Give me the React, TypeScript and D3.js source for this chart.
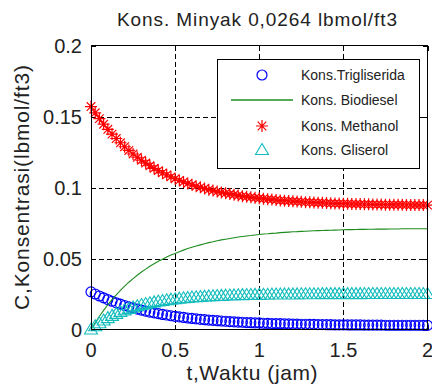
import React from 'react';
import * as d3 from 'd3';

const timeJam = [0,0.025,0.05,0.075,0.1,0.125,0.15,0.175,0.2,0.225,0.25,0.275,0.3,0.325,0.35,0.375,0.4,0.425,0.45,0.475,0.5,0.525,0.55,0.575,0.6,0.625,0.65,0.675,0.7,0.725,0.75,0.775,0.8,0.825,0.85,0.875,0.9,0.925,0.95,0.975,1,1.025,1.05,1.075,1.1,1.125,1.15,1.175,1.2,1.225,1.25,1.275,1.3,1.325,1.35,1.375,1.4,1.425,1.45,1.475,1.5,1.525,1.55,1.575,1.6,1.625,1.65,1.675,1.7,1.725,1.75,1.775,1.8,1.825,1.85,1.875,1.9,1.925,1.95,1.975,2];

const trigliserida = [
0.0265,0.0250,0.0236,0.0223,0.0211,0.0199,0.0188,0.0178,0.0169,0.0160,
0.0152,0.0144,0.0137,0.0130,0.0123,0.0117,0.0112,0.0106,0.0102,0.0097,
0.0093,0.0089,0.0085,0.0081,0.0078,0.0075,0.0072,0.0069,0.0066,0.0064,
0.0062,0.0060,0.0058,0.0056,0.0054,0.0052,0.0051,0.0049,0.0048,0.0047,
0.0046,0.0044,0.0043,0.0042,0.0042,0.0041,0.0040,0.0039,0.0038,0.0038,
0.0037,0.0037,0.0036,0.0036,0.0035,0.0035,0.0034,0.0034,0.0033,0.0033,
0.0033,0.0032,0.0032,0.0032,0.0032,0.0031,0.0031,0.0031,0.0031,0.0031,
0.0030,0.0030,0.0030,0.0030,0.0030,0.0030,0.0030,0.0030,0.0030,0.0029,
0.0029];

const biodiesel = [
0,0.0048,0.0093,0.0135,0.0174,0.0210,0.0244,0.0276,0.0305,0.0333,
0.0358,0.0382,0.0405,0.0425,0.0445,0.0463,0.0480,0.0495,0.0510,0.0524,
0.0536,0.0548,0.0559,0.0570,0.0579,0.0588,0.0596,0.0604,0.0612,0.0618,
0.0625,0.0631,0.0636,0.0641,0.0646,0.0651,0.0655,0.0659,0.0662,0.0666,
0.0669,0.0672,0.0674,0.0677,0.0679,0.0682,0.0684,0.0686,0.0688,0.0689,
0.0691,0.0692,0.0694,0.0695,0.0696,0.0697,0.0698,0.0699,0.0700,0.0701,
0.0702,0.0703,0.0703,0.0704,0.0705,0.0705,0.0706,0.0706,0.0707,0.0707,
0.0707,0.0708,0.0708,0.0708,0.0709,0.0709,0.0709,0.0709,0.0710,0.0710,
0.0710];

const methanol = [
0.1570,0.1526,0.1485,0.1446,0.1410,0.1376,0.1345,0.1315,0.1287,0.1261,
0.1236,0.1213,0.1192,0.1172,0.1153,0.1135,0.1119,0.1103,0.1089,0.1075,
0.1062,0.1050,0.1039,0.1029,0.1019,0.1009,0.1001,0.0993,0.0985,0.0978,
0.0971,0.0965,0.0959,0.0954,0.0949,0.0944,0.0939,0.0935,0.0931,0.0927,
0.0924,0.0921,0.0918,0.0915,0.0912,0.0909,0.0907,0.0905,0.0903,0.0901,
0.0899,0.0897,0.0896,0.0894,0.0893,0.0892,0.0890,0.0889,0.0888,0.0887,
0.0886,0.0885,0.0884,0.0884,0.0883,0.0882,0.0882,0.0881,0.0880,0.0880,
0.0879,0.0879,0.0878,0.0878,0.0878,0.0877,0.0877,0.0877,0.0876,0.0876,
0.0876];

const gliserol = [
0,0.0023,0.0044,0.0063,0.0080,0.0096,0.0110,0.0123,0.0135,0.0145,
0.0155,0.0164,0.0172,0.0179,0.0185,0.0191,0.0197,0.0201,0.0206,0.0210,
0.0213,0.0217,0.0220,0.0222,0.0225,0.0227,0.0229,0.0231,0.0233,0.0234,
0.0236,0.0237,0.0238,0.0239,0.0240,0.0241,0.0242,0.0243,0.0243,0.0244,
0.0244,0.0245,0.0245,0.0246,0.0246,0.0246,0.0247,0.0247,0.0247,0.0247,
0.0248,0.0248,0.0248,0.0248,0.0248,0.0249,0.0249,0.0249,0.0249,0.0249,
0.0249,0.0249,0.0249,0.0249,0.0249,0.0250,0.0250,0.0250,0.0250,0.0250,
0.0250,0.0250,0.0250,0.0250,0.0250,0.0250,0.0250,0.0250,0.0250,0.0250,
0.0250];

const xTicks = [0, 0.5, 1, 1.5, 2];
const xTickLabels = ['0', '0.5', '1', '1.5', '2'];
const yTicks = [0, 0.05, 0.1, 0.15, 0.2];
const yTickLabels = ['0', '0.05', '0.1', '0.15', '0.2'];
const legendLabels = ['Kons.Trigliserida', 'Kons. Biodiesel', 'Kons. Methanol', 'Kons. Gliserol'];
const titleText = 'Kons. Minyak 0,0264 lbmol/ft3';
const xLabelText = 't,Waktu (jam)';
const yLabelText = 'C,Konsentrasi(lbmol/ft3)';

const FONT = '"Liberation Sans", Arial, Helvetica, sans-serif';
const BLUE = '#0000ff';
const GREEN = '#1e8c1e';
const RED = '#ff0000';
const CYAN = '#12bcbc';

const circlePath = (cx: number, cy: number) =>
  `M${cx + 5},${cy}A5,5 0 1,1 ${cx - 5},${cy}A5,5 0 1,1 ${cx + 5},${cy}Z`;
const starPath = (cx: number, cy: number) =>
  `M${cx - 6},${cy}h12M${cx},${cy - 6}v12M${cx - 4.3},${cy - 4.3}l8.6,8.6M${cx - 4.3},${cy + 4.3}l8.6,-8.6`;
const triPath = (cx: number, cy: number) =>
  `M${cx},${cy - 6.5}L${cx + 6.5},${cy + 4.5}L${cx - 6.5},${cy + 4.5}Z`;

export default function App() {
  const x = d3.scaleLinear().domain([0, 2]).range([91, 427.5]);
  const y = d3.scaleLinear().domain([0, 0.2]).range([329.5, 45.5]);
  const [px0, px1] = x.range();
  const [py0, py1] = y.range();

  const line = d3.line<number>().x((_, i) => x(timeJam[i])).y((d) => y(d));

  const legendX = 217.5, legendY = 59.5, legendW = 202, legendH = 109;
  const rowY = [75, 100, 126, 150];
  const mX = 262;

  return (
    <svg width={432} height={390} style={{ position: 'absolute', left: 0, top: 0, background: '#fff' }}>
      <rect x={0} y={0} width={432} height={390} fill="#fff" />
      {/* grid */}
      <g stroke="#000" strokeWidth={1} strokeDasharray="5,3" shapeRendering="crispEdges">
        {xTicks.slice(1, -1).map((t) => (
          <line key={'gx' + t} x1={Math.round(x(t)) + 0.5} x2={Math.round(x(t)) + 0.5} y1={py1} y2={py0} />
        ))}
        {yTicks.slice(1, -1).map((t) => (
          <line key={'gy' + t} x1={px0} x2={px1} y1={Math.round(y(t)) + 0.5} y2={Math.round(y(t)) + 0.5} />
        ))}
      </g>
      {/* ticks */}
      <g stroke="#000" strokeWidth={1} shapeRendering="crispEdges">
        {xTicks.map((t) => (
          <g key={'tx' + t}>
            <line x1={Math.round(x(t)) + 0.5} x2={Math.round(x(t)) + 0.5} y1={py0} y2={py0 - 5} />
            <line x1={Math.round(x(t)) + 0.5} x2={Math.round(x(t)) + 0.5} y1={py1} y2={py1 + 5} />
          </g>
        ))}
        {yTicks.map((t) => (
          <g key={'ty' + t}>
            <line x1={px0} x2={px0 + 5} y1={Math.round(y(t)) + 0.5} y2={Math.round(y(t)) + 0.5} />
            <line x1={px1} x2={px1 - 5} y1={Math.round(y(t)) + 0.5} y2={Math.round(y(t)) + 0.5} />
          </g>
        ))}
      </g>
      {/* series */}
      <path
        d={trigliserida.map((v, i) => circlePath(x(timeJam[i]), y(v))).join('')}
        fill="none" stroke={BLUE} strokeWidth={1.2}
      />
      <path d={line(biodiesel) || ''} fill="none" stroke={GREEN} strokeWidth={1.1} />
      <path
        d={methanol.map((v, i) => starPath(x(timeJam[i]), y(v))).join('')}
        fill="none" stroke={RED} strokeWidth={1.2}
      />
      <path
        d={gliserol.map((v, i) => triPath(x(timeJam[i]), y(v))).join('')}
        fill="none" stroke={CYAN} strokeWidth={1.1}
      />
      {/* frame */}
      <rect x={px0} y={py1} width={px1 - px0} height={py0 - py1} fill="none" stroke="#000" strokeWidth={1} shapeRendering="crispEdges" />
      {/* tick labels */}
      <g fontFamily={FONT} fontSize={20} fill="#222">
        {xTicks.map((t, i) => (
          <text key={'lx' + t} x={x(t)} y={357} textAnchor="middle">{xTickLabels[i]}</text>
        ))}
        {yTicks.map((t, i) => (
          <text key={'ly' + t} x={82} y={y(t) + 7} textAnchor="end">{yTickLabels[i]}</text>
        ))}
      </g>
      {/* title and labels */}
      <text x={257} y={26} textAnchor="middle" fontFamily={FONT} fontSize={19} fill="#222" textLength={280}>{titleText}</text>
      <text x={252} y={380} textAnchor="middle" fontFamily={FONT} fontSize={21} fill="#222" textLength={131}>{xLabelText}</text>
      <text transform={`translate(28.5,${(py0 + py1) / 2}) rotate(-90)`} textAnchor="middle" fontFamily={FONT} fontSize={21} fill="#222" textLength={245}>{yLabelText}</text>
      {/* legend */}
      <rect x={legendX} y={legendY} width={legendW} height={legendH} fill="#fff" stroke="#000" strokeWidth={1} shapeRendering="crispEdges" />
      <path d={circlePath(mX, rowY[0])} fill="none" stroke={BLUE} strokeWidth={1.2} />
      <line x1={231} x2={293} y1={rowY[1]} y2={rowY[1]} stroke={GREEN} strokeWidth={1.5} />
      <path d={starPath(mX, rowY[2])} fill="none" stroke={RED} strokeWidth={1.2} />
      <path d={triPath(mX, rowY[3])} fill="none" stroke={CYAN} strokeWidth={1.1} />
      <g fontFamily={FONT} fontSize={14} fill="#222">
        {legendLabels.map((l, i) => (
          <text key={l} x={301} y={rowY[i] + 5}>{l}</text>
        ))}
      </g>
    </svg>
  );
}
